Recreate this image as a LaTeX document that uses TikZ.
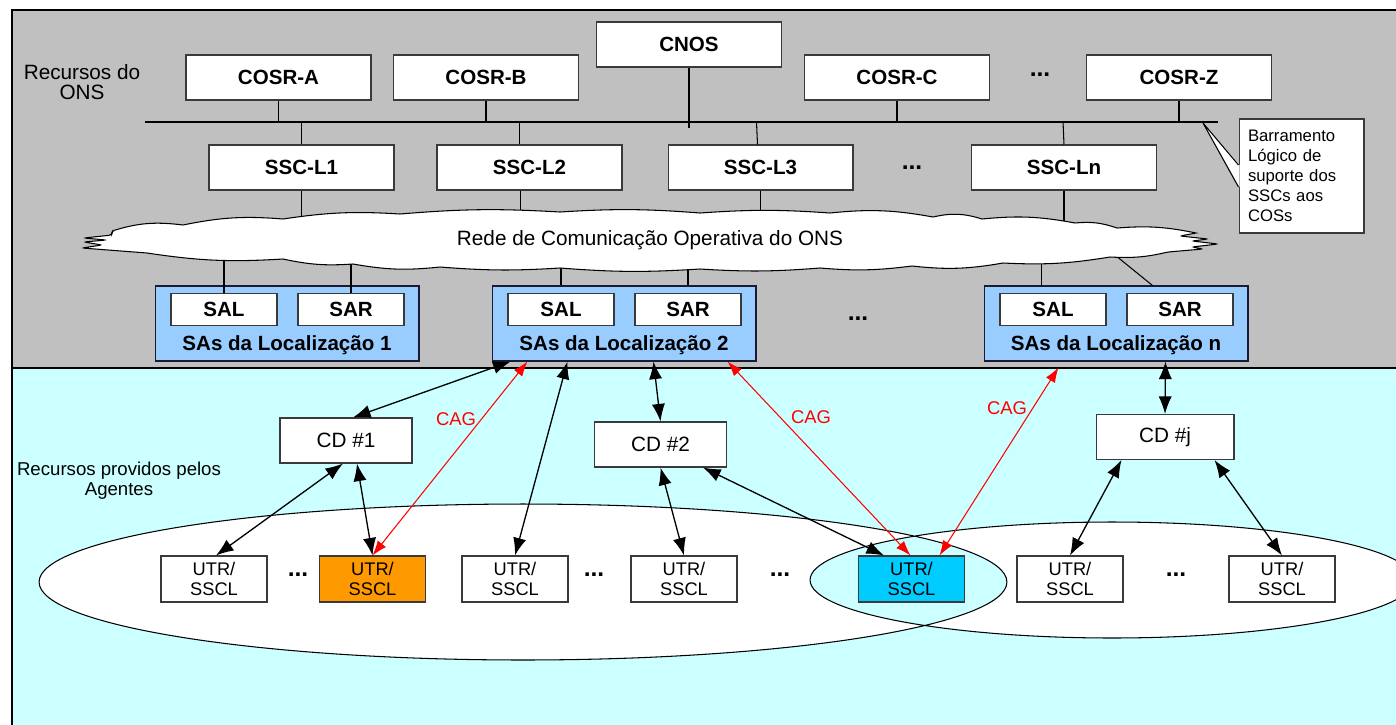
\documentclass[tikz,border=0pt]{standalone}
\usepackage{fontspec}
\setmainfont{Liberation Sans}
\usetikzlibrary{arrows.meta,calc}
\definecolor{onsgray}{HTML}{C0C0C0}
\definecolor{agcyan}{HTML}{CCFFFF}
\definecolor{locblue}{HTML}{99CCFF}
\definecolor{utrorange}{HTML}{FF9900}
\definecolor{utrcyan}{HTML}{00CCFF}
\definecolor{boxline}{HTML}{3A3A3A}
\definecolor{locline}{HTML}{1A1A33}
\definecolor{cagred}{HTML}{FF0000}
\tikzset{
  x=0.02cm, y=-0.02cm,
  conn/.style={draw=black, line width=0.6pt},
  topbox/.style={draw=boxline, fill=white, line width=0.6pt, minimum width=3.7cm, minimum height=0.9cm, inner sep=0pt, font=\fontsize{11.7}{14}\selectfont\bfseries},
  sabox/.style={draw=boxline, fill=white, line width=0.6pt, minimum width=2.12cm, minimum height=0.64cm, inner sep=0pt, font=\fontsize{11.7}{14}\selectfont\bfseries},
  locbox/.style={draw=locline, fill=locblue, line width=0.6pt, minimum width=5.28cm, minimum height=1.5cm, inner sep=0pt},
  loclbl/.style={inner sep=0pt, font=\fontsize{11.7}{14}\selectfont\bfseries},
  dotlbl/.style={inner sep=0pt, font=\fontsize{14}{16}\selectfont\bfseries},
  plainlbl/.style={inner sep=0pt, align=center, font=\fontsize{11.8}{11.3}\selectfont},
  smalllbl/.style={inner sep=0pt, align=center, font=\fontsize{10.6}{11.2}\selectfont},
  cdbox/.style={draw=boxline, fill=white, line width=0.6pt, minimum width=2.64cm, minimum height=0.9cm, inner sep=0pt, font=\fontsize{11.8}{14}\selectfont},
  utrbox/.style={draw=boxline, fill=white, line width=0.6pt, minimum width=2.12cm, minimum height=0.92cm, inner sep=0pt, align=center, font=\fontsize{10.4}{11.3}\selectfont},
  notebox/.style={draw=boxline, fill=white, line width=0.6pt, text width=2.14cm, inner xsep=0.18cm, inner ysep=0pt, minimum height=2.28cm, align=left, font=\fontsize{9.5}{11.3}\selectfont},
  blk/.style={draw=black, line width=0.75pt, {Latex[length=10pt,width=7.5pt]}-{Latex[length=10pt,width=7.5pt]}},
  cag/.style={draw=cagred, line width=0.6pt, {Latex[length=8.5pt,width=6pt]}-{Latex[length=8.5pt,width=6pt]}},
  caglbl/.style={inner sep=0pt, text=cagred, font=\fontsize{10.5}{12}\selectfont}
}
\begin{document}
\begin{tikzpicture}
\useasboundingbox (0,0) rectangle (1396,724);
% regions
\draw[fill=onsgray, line width=0.6pt] (12,10) rectangle (1402,368);
\draw[fill=agcyan, line width=0.6pt] (12,368) rectangle (1402,730);
\draw[line width=1.3pt] (12,368) -- (1402,368);
\node[plainlbl] (onsl) at (82,82) {Recursos do\\ONS};
\node[smalllbl] (agl) at (119,481) {Recursos providos pelos\\Agentes};

% top boxes
\node[topbox] (cosrA) at (278.5,77.5) {COSR-A};
\node[topbox] (cosrB) at (486,77.5) {COSR-B};
\node[topbox] (cnos) at (689,44.5) {CNOS};
\node[topbox] (cosrC) at (897,77.5) {COSR-C};
\node[topbox] (cosrZ) at (1179,77.5) {COSR-Z};
\node[dotlbl] (dz) at (1040,75) {...};
\node[topbox] (ssc1) at (301.5,167.5) {SSC-L1};
\node[topbox] (ssc2) at (529.5,167.5) {SSC-L2};
\node[topbox] (ssc3) at (760.5,167.5) {SSC-L3};
\node[topbox] (sscn) at (1064,167.5) {SSC-Ln};
\node[dotlbl] (ds) at (912,168) {...};

% bus
\draw[conn] (145,122) coordinate (busL) -- (1218,122) coordinate (busR);
\draw[conn] (cosrA.south) -- (cosrA.south |- busL);
\draw[conn] (cosrB.south) -- (cosrB.south |- busL);
\draw[conn] (cosrC.south) -- (cosrC.south |- busL);
\draw[conn] (cosrZ.south) -- (cosrZ.south |- busL);
\draw[conn] (cnos.south) -- ++(0,60);
\draw[conn] (ssc1.north) -- (ssc1.north |- busL);
\draw[conn] ($(ssc2.north west)+(83,0)$) -- ++(0,-23);
\draw[conn] ($(ssc3.north west)+(90,0)$) -- ++(-1,-23);
\draw[conn] (sscn.north) -- ++(-1,-23);

% SSC to cloud
\draw[conn] (ssc1.south) -- ++(0,40);
\draw[conn] ($(ssc2.south west)+(84,0)$) -- ++(0,40);
\draw[conn] (ssc3.south) -- ++(0,40);
\draw[conn] (sscn.south) -- ++(0,40);

% location boxes
\node[locbox] (loc1) at (287,323.5) {};
\node[locbox] (loc2) at (624,323.5) {};
\node[locbox] (locn) at (1116,323.5) {};
\node[sabox] (sal1) at (224,309.5) {SAL};
\node[sabox] (sar1) at (351,309.5) {SAR};
\node[sabox] (sal2) at (561,309.5) {SAL};
\node[sabox] (sar2) at (688,309.5) {SAR};
\node[sabox] (saln) at (1053,309.5) {SAL};
\node[sabox] (sarn) at (1180,309.5) {SAR};
\node[loclbl] (ll1) at (287,345) {SAs da Localização 1};
\node[loclbl] (ll2) at (624,345) {SAs da Localização 2};
\node[loclbl] (lln) at (1116,345) {SAs da Localização n};
\node[dotlbl] (dl) at (858,319) {...};

% cloud to locations
\draw[conn] (sal1.north) -- ++(0,-50);
\draw[conn] (sar1.north) -- ++(0,-50);
\draw[conn] (loc2.north -| sal2.north) -- ++(0,-40);
\draw[conn] (loc2.north -| sar2.north) -- ++(0,-40);
\draw[conn] ($(locn.north west)+(58,0)$) -- ++(0,-40);
\draw[conn] ($(locn.north west)+(169,0)$) -- ++(-53,-43);

% cloud
\filldraw[fill=white, draw=black, line width=0.6pt]
 (112,231)
 to[bend left=12] (183,225)
 to[bend left=8] (283,219)
 to[bend left=6] (400,214)
 to[bend left=4] (560,212)
 to[bend left=4] (700,213)
 to[bend left=4] (830,213)
 to[bend left=8] (933,217)
 to[bend left=15] (982,219)
 to[bend left=8] (1075,223)
 to[bend left=12] (1117,228)
 to[bend left=8] (1196,233)
 [rounded corners=1.5pt]
 -- (1180,236) -- (1208,239) -- (1192,241) -- (1218,244) -- (1192,247) -- (1203,249) -- (1168,252)
 [sharp corners]
 to[bend left=8] (1110,257)
 to[bend left=6] (1003,263)
 to[bend left=8] (912,266)
 to[bend left=6] (820,268)
 to[bend left=4] (700,269)
 to[bend left=4] (560,268)
 to[bend left=4] (440,267)
 to[bend left=8] (353,264)
 to[bend left=8] (283,259)
 to[bend left=6] (147,253)
 [rounded corners=1.5pt]
 -- (82,248) -- (102,245) -- (84,242) -- (106,240) -- (84,238) -- (112,235) -- cycle;
\node[plainlbl] (net) at (650,240) {Rede de Comunicação Operativa do ONS};

% callout
\node[notebox] (note) at (1301.5,176) {Barramento\\Lógico de\\suporte dos\\SSCs aos\\COSs};
\coordinate (tip) at (1203,123);
\fill[white] ($(note.west)+(1,-11)$) -- (tip) -- ($(note.west)+(1,11)$) -- cycle;
\draw[conn] ($(note.west)+(0,-11)$) -- (tip) -- ($(note.west)+(0,11)$);

% ellipses
\draw[fill=white, even odd rule, line width=0.6pt] (523,582) ellipse [x radius=9.68cm, y radius=1.56cm] (1112,580) ellipse [x radius=6.04cm, y radius=1.16cm];

% lower boxes
\node[cdbox] (cd1) at (346,440.5) {CD \#1};
\node[cdbox] (cd2) at (660.5,444.5) {CD \#2};
\node[cdbox, minimum width=2.76cm] (cdj) at (1165,437) {CD \#j};
\node[utrbox] (u1) at (214,579) {UTR/\\SSCL};
\node[utrbox, fill=utrorange] (u2) at (372.5,579) {UTR/\\SSCL};
\node[utrbox] (u3) at (515,579) {UTR/\\SSCL};
\node[utrbox] (u4) at (684,579) {UTR/\\SSCL};
\node[utrbox, fill=utrcyan] (u5) at (911.5,579) {UTR/\\SSCL};
\node[utrbox] (u6) at (1070,579) {UTR/\\SSCL};
\node[utrbox] (u7) at (1282,579) {UTR/\\SSCL};
\node[dotlbl] (d1) at (298,575) {...};
\node[dotlbl] (d2) at (594,575) {...};
\node[dotlbl] (d3) at (780,575) {...};
\node[dotlbl] (d4) at (1176,575) {...};

% black arrows
\draw[blk] ($(loc2.south west)+(19,0)$) -- ($(cd1.north)+(7,0)$);
\draw[blk] ($(cd1.south)+(-3,0)$) -- ($(u1.north)+(2,0)$);
\draw[blk] ($(cd1.south)+(11,0)$) -- (u2.north);
\draw[blk] ($(loc2.south west)+(76,0)$) -- (u3.north);
\draw[blk] ($(loc2.south west)+(162,0)$) -- (cd2.north);
\draw[blk] (cd2.south) -- (u4.north);
\draw[blk] ($(cd2.south east)+(-24,0)$) -- ($(u5.north west)+(26,0)$);
\draw[blk] ($(locn.south west)+(182,0)$) -- (cdj.north);
\draw[blk] ($(cdj.south west)+(26,0)$) -- (u6.north);
\draw[blk] ($(cdj.south east)+(-20,0)$) -- (u7.north);

% CAG arrows
\draw[cag] ($(loc2.south west)+(36,0)$) -- (u2.north);
\draw[cag] ($(loc2.south west)+(236,0)$) -- ($(u5.north)+(-1,0)$);
\draw[cag] ($(locn.south west)+(75,6)$) -- ($(u5.north)+(28,0)$);
\node[caglbl] (cag1) at (456,419) {CAG};
\node[caglbl] (cag2) at (811,417) {CAG};
\node[caglbl] (cag3) at (1007,408) {CAG};
\end{tikzpicture}
\end{document}
